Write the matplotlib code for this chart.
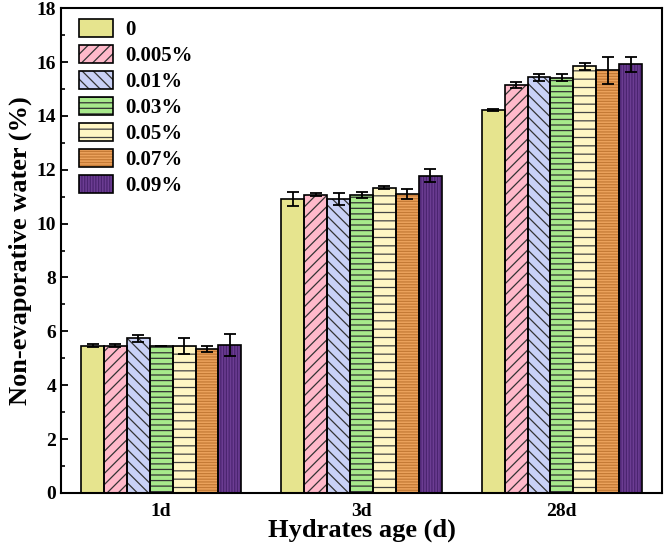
import matplotlib as mpl
mpl.use('Agg')
import matplotlib.pyplot as plt
import numpy as np
from matplotlib.patches import Patch
from matplotlib.legend_handler import HandlerTuple
from matplotlib.ticker import MultipleLocator

plt.rcParams['font.family'] = ['Liberation Serif', 'DejaVu Serif']
plt.rcParams['font.weight'] = 'bold'
plt.rcParams['hatch.linewidth'] = 0.9

ages = ['1d', '3d', '28d']
dosages = ['0', '0.005%', '0.01%', '0.03%', '0.05%', '0.07%', '0.09%']

# non-evaporative water (%) for each dosage at 1d, 3d, 28d
w_0 = [5.47, 10.90, 14.23]
w_0005 = [5.47, 11.07, 15.15]
w_001 = [5.74, 10.90, 15.44]
w_003 = [5.47, 11.06, 15.42]
w_005 = [5.44, 11.34, 15.84]
w_007 = [5.34, 11.09, 15.69]
w_009 = [5.49, 11.78, 15.91]

e_0 = [0.07, 0.26, 0.04]
e_0005 = [0.05, 0.06, 0.10]
e_001 = [0.12, 0.22, 0.13]
e_003 = [0.00, 0.12, 0.13]
e_005 = [0.30, 0.04, 0.12]
e_007 = [0.11, 0.18, 0.50]
e_009 = [0.42, 0.25, 0.28]

series = [w_0, w_0005, w_001, w_003, w_005, w_007, w_009]
errs = [e_0, e_0005, e_001, e_003, e_005, e_007, e_009]

fills = ['#E6E48E', '#FFB9CA', '#C9D1F6', '#A7E98B', '#FFF6C4', '#EBA25C', '#6C3D93']
hatch_cols = ['#E6E48E', '#333333', '#333333', '#333333', '#444444', '#C47A35', '#4B2470']
hatches = ['', '///', '\\\\\\', '---', '--', '------', '||||||']

fig = plt.figure(figsize=(6.64, 5.44), dpi=100)
ax = fig.add_axes([0.092, 0.094, 0.905, 0.891])

x = np.arange(len(ages))
width = 0.8 / len(dosages)
handles = []
for i, lab in enumerate(dosages):
    pos = x + (i - 3) * width
    ax.bar(pos, series[i], width, color=fills[i], edgecolor=hatch_cols[i],
           hatch=hatches[i], linewidth=0, zorder=2)
    ax.bar(pos, series[i], width, fill=False, edgecolor='black', linewidth=1.2, zorder=3)
    ax.errorbar(pos, series[i], yerr=errs[i], fmt='none', ecolor='black',
                elinewidth=1.3, capsize=4, capthick=1.3, zorder=4)
    h1 = Patch(facecolor=fills[i], edgecolor=hatch_cols[i], hatch=hatches[i], linewidth=0)
    h2 = Patch(fill=False, edgecolor='black', linewidth=1.2)
    handles.append((h1, h2))

ax.set_xlim(-0.5, 2.5)
ax.set_ylim(0, 18)
ax.set_xticks(x)
ax.set_xticklabels(ages)
ax.yaxis.set_major_locator(MultipleLocator(2))
ax.yaxis.set_minor_locator(MultipleLocator(1))
ax.tick_params(axis='both', which='major', direction='in', length=5, width=1.3, labelsize=14)
ax.tick_params(axis='x', pad=7)
ax.tick_params(axis='y', which='minor', direction='in', length=3, width=1.2)
for s in ax.spines.values():
    s.set_linewidth(1.5)

ax.set_xlabel('Hydrates age (d)', fontsize=19, fontweight='bold', labelpad=-1)
ax.set_ylabel('Non-evaporative water (%)', fontsize=19, fontweight='bold', labelpad=3)

ax.legend(handles, dosages, handler_map={tuple: HandlerTuple(ndivide=1, pad=0)},
          loc='upper left', bbox_to_anchor=(0.013, 1.0), frameon=False, fontsize=15,
          handlelength=1.6, handleheight=1.0, labelspacing=0.22, handletextpad=0.6,
          borderaxespad=0.2, borderpad=0.3)

plt.savefig('out.png', dpi=100)
